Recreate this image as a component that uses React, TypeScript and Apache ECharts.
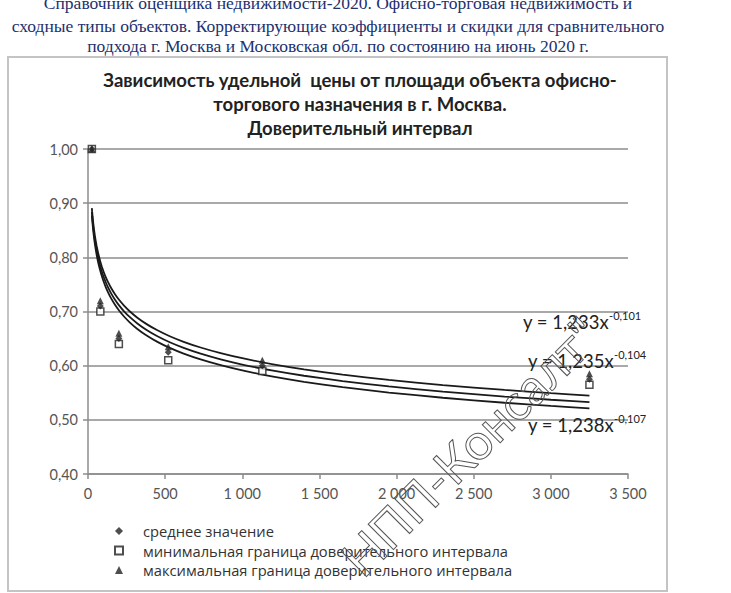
import React, { useEffect, useRef } from "react";
import * as echarts from "echarts";

// ---- data ----
const areas = [25, 80, 200, 520, 1130, 3250];
const meanValues = [1.0, 0.71, 0.65, 0.625, 0.6, 0.575];
const minValues = [1.0, 0.7, 0.64, 0.61, 0.59, 0.565];
const maxValues = [1.0, 0.72, 0.66, 0.635, 0.61, 0.585];

// trend equations shown on the chart: y = a * x^(-b)
const trendA = [1.233, 1.235, 1.238];
const trendB = [0.101, 0.104, 0.107];
const trendLabels = ["1,233x", "1,235x", "1,238x"];
const trendPowers = ["-0,101", "-0,104", "-0,107"];
const trendSampleX = [
  25, 27, 30, 33, 36, 40, 45, 50, 56, 63, 70, 80, 90, 100, 115, 130, 150, 175, 200, 235, 270, 320,
  380, 450, 530, 620, 730, 860, 1000, 1200, 1400, 1650, 1950, 2300, 2700, 3000, 3250,
];

const xTicks = [0, 500, 1000, 1500, 2000, 2500, 3000, 3500];
const yTicks = [0.4, 0.5, 0.6, 0.7, 0.8, 0.9, 1.0];

const seriesNames = [
  "среднее значение",
  "минимальная граница доверительного интервала",
  "максимальная граница доверительного интервала",
];

const headerLines = [
  "Справочник оценщика недвижимости-2020. Офисно-торговая недвижимость и",
  "сходные типы объектов. Корректирующие коэффициенты и скидки для сравнительного",
  "подхода г. Москва и Московская обл. по состоянию на июнь 2020 г.",
];
const chartTitle =
  "Зависимость удельной  цены от площади объекта офисно-\nторгового назначения в г. Москва.\nДоверительный интервал";

const watermark = "НПП-Консалт\"";

const FONT = "Lato";

export default function App() {
  const ref = useRef<HTMLDivElement>(null);

  useEffect(() => {
    if (!ref.current) return;
    const chart = echarts.init(ref.current, undefined, { renderer: "svg" });

    const fmtX = (v: number) => {
      if (v >= 1000) {
        const th = Math.floor(v / 1000);
        const rest = String(v % 1000).padStart(3, "0");
        return th + " " + rest;
      }
      return String(v);
    };
    const fmtY = (v: number) => v.toFixed(2).replace(".", ",");

    const pair = (xs: number[], ys: number[]) => xs.map((x, i) => [x, ys[i]]);

    const trendSeries = trendA.map((a, k) => ({
      type: "line",
      name: "trend" + k,
      data: trendSampleX.map((x) => [x, a * Math.pow(x, -trendB[k])]),
      showSymbol: false,
      smooth: 0.2,
      lineStyle: { color: "#1a1a1a", width: 1.8 },
      z: 2,
    }));

    const eqY = [322, 361, 425];
    const eqX = [523, 528, 528];
    const headerY = [3, 26, 46];

    const graphics: any[] = [
      {
        type: "rect",
        shape: { x: 8, y: 57, width: 659, height: 534 },
        style: { fill: "none", stroke: "#c4c4c4", lineWidth: 2 },
        silent: true,
        z: -10,
      },
      ...headerLines.map((t, i) => ({
        type: "text",
        x: 338,
        y: headerY[i],
        style: {
          text: t,
          fontFamily: "Liberation Serif",
          fontSize: 17.5,
          fill: "#22306e",
          align: "center",
          verticalAlign: "middle",
        },
      })),
      ...trendLabels.map((t, i) => ({
        type: "text",
        x: eqX[i],
        y: eqY[i],
        style: {
          text: "{m|y = " + t + "}{s|" + trendPowers[i] + "}",
          verticalAlign: "middle",
          align: "left",
          rich: {
            m: { fontFamily: FONT, fontSize: 18.5, fill: "#222", lineHeight: 24 },
            s: { fontFamily: FONT, fontSize: 11, fill: "#222", verticalAlign: "top", lineHeight: 20 },
          },
        },
        z: 10,
      })),
      {
        type: "text",
        x: 470,
        y: 446,
        rotation: Math.PI / 4,
        style: {
          text: watermark,
          fontFamily: FONT,
          fontSize: 50,
          fill: "rgba(255,255,255,0)",
          stroke: "#555",
          lineWidth: 1,
          align: "center",
          verticalAlign: "middle",
        },
        silent: true,
        z: 20,
      },
    ];

    chart.setOption({
      animation: false,
      backgroundColor: "#ffffff",
      title: {
        text: chartTitle,
        left: 360,
        top: 68,
        padding: 0,
        textAlign: "center",
        textStyle: {
          fontFamily: FONT,
          fontSize: 18.5,
          fontWeight: "bold",
          color: "#222",
          lineHeight: 24,
        },
      },
      grid: { left: 88, right: 103, top: 149, bottom: 119, containLabel: false },
      xAxis: {
        type: "value",
        min: xTicks[0],
        max: xTicks[xTicks.length - 1],
        interval: 500,
        axisLine: { show: true, lineStyle: { color: "#8c8c8c", width: 1.5 } },
        axisTick: { show: true, length: 5, lineStyle: { color: "#8c8c8c", width: 1.5 } },
        axisLabel: { formatter: fmtX, fontFamily: FONT, fontSize: 14.5, color: "#555", margin: 12 },
        splitLine: { show: false },
      },
      yAxis: {
        type: "value",
        min: yTicks[0],
        max: yTicks[yTicks.length - 1],
        interval: 0.1,
        axisLine: { show: true, lineStyle: { color: "#8c8c8c", width: 1.5 } },
        axisTick: { show: true, length: 5, lineStyle: { color: "#8c8c8c", width: 1.5 } },
        axisLabel: { formatter: fmtY, fontFamily: FONT, fontSize: 14.5, color: "#555", margin: 10 },
        splitLine: { show: true, lineStyle: { color: "#8c8c8c", width: 1.5 } },
      },
      legend: {
        data: seriesNames,
        orient: "vertical",
        left: 114,
        top: 522,
        padding: 0,
        itemWidth: 8,
        itemHeight: 8,
        itemGap: 1.5,
        textStyle: {
          fontFamily: "Open Sans",
          fontSize: 14.7,
          color: "#333",
          padding: [0, 0, 0, 15],
          lineHeight: 18,
        },
      },
      series: [
        ...trendSeries,
        {
          type: "scatter",
          name: seriesNames[1],
          data: pair(areas, minValues),
          symbol: "rect",
          symbolSize: 7,
          itemStyle: { color: "#ffffff", borderColor: "#222", borderWidth: 1.5 },
          z: 3,
        },
        {
          type: "scatter",
          name: seriesNames[0],
          data: pair(areas, meanValues),
          symbol: "diamond",
          symbolSize: 7,
          itemStyle: { color: "#222" },
          z: 4,
        },
        {
          type: "scatter",
          name: seriesNames[2],
          data: pair(areas, maxValues),
          symbol: "triangle",
          symbolSize: 7,
          itemStyle: { color: "#222" },
          z: 5,
        },
      ],
      graphic: graphics,
    });

    return () => chart.dispose();
  }, []);

  return (
    <div
      ref={ref}
      style={{ position: "fixed", left: 0, top: 0, width: 731, height: 593, background: "#fff" }}
    />
  );
}
